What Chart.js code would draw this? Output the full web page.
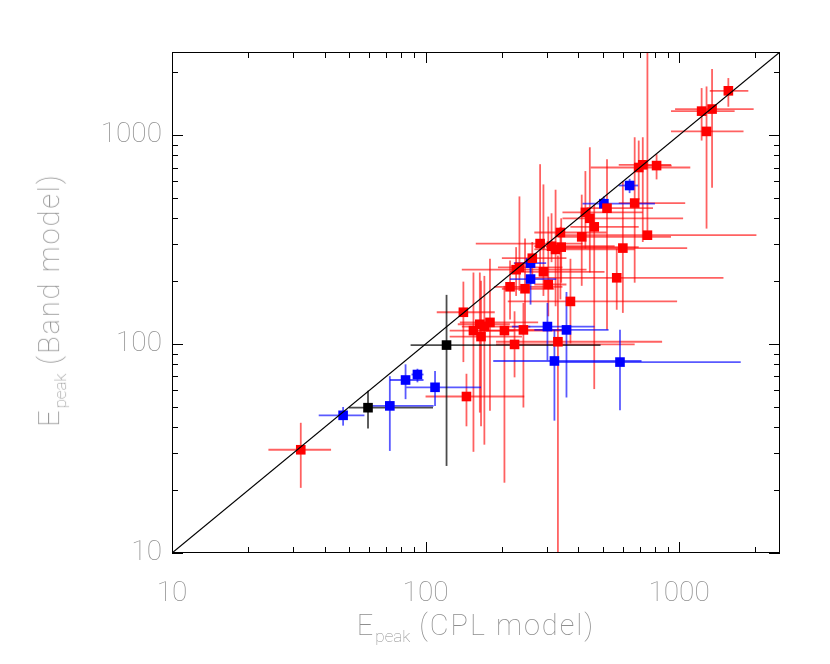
<!DOCTYPE html>
<html>
<head>
<meta charset="utf-8">
<script src="https://cdn.jsdelivr.net/npm/chart.js@4.4.0/dist/chart.umd.min.js"></script>
<style>
  html, body { margin: 0; padding: 0; background: #fff; }
  #wrap { position: relative; width: 830px; height: 664px; }
  .axis-title { position: absolute; font-family: Roboto, "DejaVu Sans", sans-serif; font-weight: 100; font-size: 29px; line-height: 29px; color: #8e8e8e; white-space: nowrap; letter-spacing: 2px; }
  .axis-title sub { font-size: 17px; vertical-align: -0.4em; letter-spacing: 0; }
  #xTitle { left: 476px; top: 611px; transform: translateX(-50%); }
  #yTitle { left: 55px; top: 300px; transform: translate(-50%, -50%) rotate(-90deg); }
</style>
</head>
<body>
<div id="wrap">
  <canvas id="chart" width="830" height="664"></canvas>
  <div class="axis-title" id="xTitle">E<sub>peak</sub> (CPL model)</div>
  <div class="axis-title" id="yTitle">E<sub>peak</sub> (Band model)</div>
</div>
<script>
// axis setup
const axisMin = 10;
const axisMax = 2500;
const tickValues = [10, 20, 30, 40, 50, 60, 70, 80, 90, 100, 200, 300, 400, 500, 600, 700, 800, 900, 1000, 2000];
const labelValues = [10, 100, 1000];

// red points (CPL Epeak, Band Epeak, error ranges)
const redX   = [32.2, 145, 141, 154.5, 163.7, 165.5, 170.6, 179.5, 204.7, 215.4, 224.4, 227.6, 234.6, 243.2, 246.8, 263.6, 283, 291.7, 304.8, 314, 325.7, 342.8, 340.4, 332.7, 372.8, 413, 427, 444.5, 462.7, 519.6, 567.6, 600, 668, 693, 719, 750, 815, 1227, 1349, 1283, 1564];
const redY   = [31.2, 56.1, 142, 116, 124.4, 108.6, 121.3, 127, 116, 188, 99.6, 227, 233, 116.9, 184, 257.6, 302.7, 221.8, 192.8, 294, 283.7, 291, 342, 102.6, 160, 326, 427, 400, 364, 447, 207.6, 288, 473, 700, 721, 332, 715, 1303, 1333, 1042, 1630];
const redXLo = [24, 100, 110.7, 124.5, 134, 124.5, 139, 136.5, 166.7, 186, 189.7, 139, 193, 207.5, 200, 200, 157.8, 215, 268.5, 268.5, 268.5, 299, 268.5, 189.7, 211, 334, 346.7, 346.7, 372.6, 431.5, 268.5, 346.7, 578, 448, 578, 346.7, 719, 929, 964, 929, 1321];
const redXHi = [42.4, 245, 187.5, 223, 215, 240, 259, 278, 346.7, 346.7, 668, 431.5, 346.7, 346.7, 322, 359.5, 416, 508, 359.5, 557, 668, 693, 517.6, 857, 982, 929, 719, 1037, 693, 789, 1496, 1076, 1057, 1107, 929, 2018, 935, 1656, 1968, 1795, 1875];
const redYLo = [20.5, 40.4, 82, 30.5, 47, 40.4, 33, 47.9, 21.7, 131, 69.3, 170, 179.5, 49.7, 117, 212, 228.6, 170, 135.8, 246.6, 151.7, 196.7, 163.6, 5, 100.7, 190, 286, 220, 60.9, 117, 146, 141, 196.7, 491, 308, 320, 614, 942, 560, 357, 1367];
const redYHi = [42, 72.1, 199, 220, 220, 201, 212, 256, 190, 251, 143.5, 291, 509, 157.4, 320, 308, 726, 581, 407.6, 422.7, 548, 400, 364, 265.5, 256, 519, 673, 875, 464.5, 767, 286, 603, 977, 942, 977, 5000, 811, 1680, 2075, 1710, 1876];

// blue points
const blueX   = [47.3, 72.3, 83.4, 92.9, 109, 259.5, 259.5, 302.5, 322.3, 359.6, 505, 584.6, 638];
const blueY   = [45.6, 50.6, 67.3, 71.5, 62.1, 244, 204.7, 121.3, 83, 116.9, 469.7, 82, 574];
const blueXLo = [37.9, 61.5, 72.4, 88, 83.9, 223, 215, 219, 184.9, 268.5, 416, 322, 578];
const blueXHi = [57.4, 107.6, 98.2, 98.2, 165.5, 299, 328, 464, 711, 527, 803, 1750, 689];
const blueYLo = [40.7, 30.8, 54.5, 65.6, 50.6, 220, 154.5, 83.6, 43, 55.5, 438, 48.2, 528];
const blueYHi = [50, 70.2, 80, 76.2, 74.3, 265.5, 256, 157.4, 117, 177.6, 509, 117, 618];

// black points
const blackX   = [59.3, 121];
const blackY   = [49.6, 98.9];
const blackXLo = [49.9, 87.3];
const blackXHi = [107, 490];
const blackYLo = [39.4, 26.1];
const blackYHi = [59.8, 172];

const groups = [
    { name: 'red', fill: 'rgb(255,0,0)', bar: 'rgba(255,0,0,0.62)', x: redX, y: redY, xLo: redXLo, xHi: redXHi, yLo: redYLo, yHi: redYHi },
    { name: 'blue', fill: 'rgb(0,0,255)', bar: 'rgba(0,0,255,0.65)', x: blueX, y: blueY, xLo: blueXLo, xHi: blueXHi, yLo: blueYLo, yHi: blueYHi },
    { name: 'black', fill: 'rgb(0,0,0)', bar: 'rgba(0,0,0,0.7)', x: blackX, y: blackY, xLo: blackXLo, xHi: blackXHi, yLo: blackYLo, yHi: blackYHi }
];

const errorBars = {
    id: 'errorBars',
    beforeDatasetsDraw(chart) {
        const { ctx, chartArea: a, scales: { x, y } } = chart;
        ctx.save();
        ctx.beginPath();
        ctx.rect(a.left, a.top, a.width, a.height);
        ctx.clip();
        ctx.lineWidth = 1.8;
        groups.forEach(g => {
            ctx.strokeStyle = g.bar;
            g.x.forEach((xv, i) => {
                const px = x.getPixelForValue(xv);
                const py = y.getPixelForValue(g.y[i]);
                ctx.beginPath();
                ctx.moveTo(x.getPixelForValue(g.xLo[i]), py);
                ctx.lineTo(x.getPixelForValue(g.xHi[i]), py);
                ctx.stroke();
                ctx.beginPath();
                ctx.moveTo(px, y.getPixelForValue(g.yLo[i]));
                ctx.lineTo(px, y.getPixelForValue(g.yHi[i]));
                ctx.stroke();
            });
        });
        ctx.restore();
    }
};

// box with inward ticks on all four sides
const frameTicks = {
    id: 'frameTicks',
    afterDraw(chart) {
        const { ctx, chartArea: a, scales: { x, y } } = chart;
        ctx.save();
        ctx.strokeStyle = '#000';
        ctx.lineWidth = 1;
        ctx.strokeRect(a.left + 0.5, a.top + 0.5, a.width - 1, a.height - 1);
        ctx.beginPath();
        tickValues.forEach(v => {
            const len = labelValues.includes(v) ? 11 : 6;
            const px = Math.round(x.getPixelForValue(v)) + 0.5;
            ctx.moveTo(px, a.bottom); ctx.lineTo(px, a.bottom - len);
            ctx.moveTo(px, a.top); ctx.lineTo(px, a.top + len);
            const py = Math.round(y.getPixelForValue(v)) + 0.5;
            ctx.moveTo(a.left, py); ctx.lineTo(a.left + len, py);
            ctx.moveTo(a.right, py); ctx.lineTo(a.right - len, py);
        });
        ctx.stroke();
        ctx.restore();
    }
};

function pointSet(g) {
    return {
        label: g.name,
        data: g.x.map((v, i) => ({ x: v, y: g.y[i] })),
        pointStyle: 'rect',
        pointRadius: 6.8,
        pointHoverRadius: 6.8,
        backgroundColor: g.fill,
        borderColor: g.fill,
        borderWidth: 0,
        showLine: false,
        order: 1
    };
}

function logAxis(extra) {
    return Object.assign({
        type: 'logarithmic',
        min: axisMin,
        max: axisMax,
        grid: { display: false, drawTicks: false },
        border: { display: false },
        afterBuildTicks: scale => {
            scale.ticks = tickValues.map(v => ({ value: v }));
        },
        ticks: {
            autoSkip: false,
            maxRotation: 0,
            color: '#8e8e8e',
            font: { family: 'Roboto, "DejaVu Sans", sans-serif', size: 28, weight: 100 },
            callback: v => labelValues.includes(v) ? String(v) : ''
        }
    }, extra);
}

new Chart(document.getElementById('chart'), {
    type: 'scatter',
    data: {
        datasets: [
            {
                label: 'equal',
                data: [{ x: axisMin, y: axisMin }, { x: axisMax, y: axisMax }],
                showLine: true,
                borderColor: '#000',
                borderWidth: 1.2,
                pointRadius: 0,
                order: 0
            },
            ...groups.map(pointSet)
        ]
    },
    options: {
        responsive: false,
        animation: false,
        layout: { padding: { top: 52, right: 50, left: 0, bottom: 0 } },
        plugins: { legend: { display: false }, tooltip: { enabled: false } },
        scales: {
            x: logAxis({
                ticks: Object.assign({}, logAxis().ticks, { padding: 24 }),
                afterFit: scale => { scale.height = 111; }
            }),
            y: logAxis({
                ticks: Object.assign({}, logAxis().ticks, { padding: 10 }),
                afterFit: scale => { scale.width = 172; }
            })
        }
    },
    plugins: [errorBars, frameTicks]
});
</script>
</body>
</html>
